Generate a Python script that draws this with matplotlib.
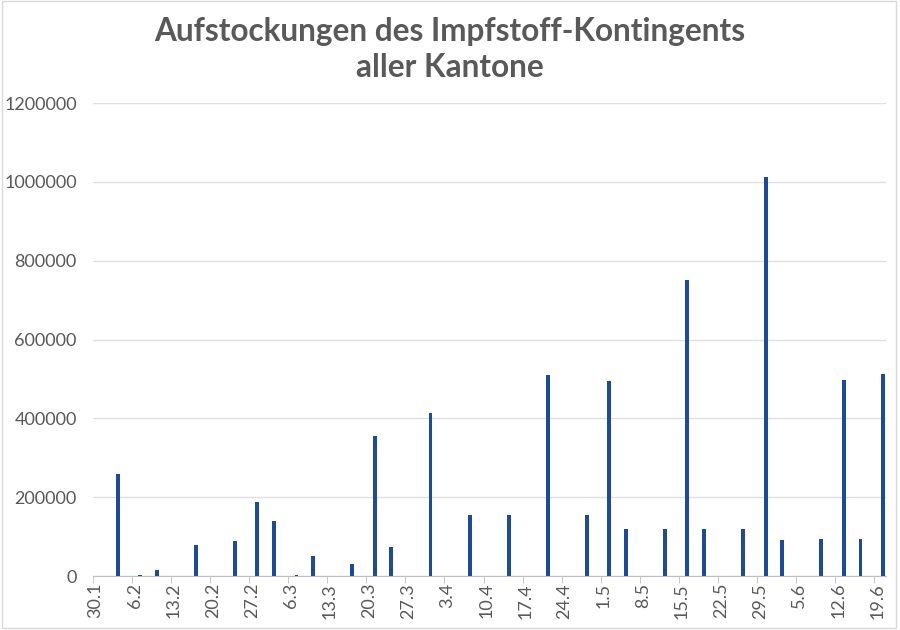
import matplotlib
matplotlib.use("Agg")
import matplotlib.pyplot as plt
from matplotlib.patches import Rectangle
import pandas as pd

plt.rcParams["font.family"] = ["Lato", "DejaVu Sans"]

# Aufstockungen pro Tag (2021)
datum = ["2021-02-03", "2021-02-07", "2021-02-10", "2021-02-17", "2021-02-24",
         "2021-02-28", "2021-03-03", "2021-03-07", "2021-03-10", "2021-03-17",
         "2021-03-21", "2021-03-24", "2021-03-31", "2021-04-07", "2021-04-14",
         "2021-04-21", "2021-04-28", "2021-05-02", "2021-05-05", "2021-05-12",
         "2021-05-16", "2021-05-19", "2021-05-26", "2021-05-30", "2021-06-02",
         "2021-06-09", "2021-06-13", "2021-06-16", "2021-06-20"]
dosen = [259000, 3000, 15000, 78000, 90000,
         188000, 140000, 3000, 52000, 30000,
         354000, 74000, 413000, 156000, 156000,
         510000, 156000, 495000, 118000, 118000,
         752000, 118000, 118000, 1013000, 92000,
         94000, 498000, 94000, 512000]

tick_labels = ["30.1", "6.2", "13.2", "20.2", "27.2", "6.3", "13.3", "20.3", "27.3",
               "3.4", "10.4", "17.4", "24.4", "1.5", "8.5", "15.5", "22.5", "29.5",
               "5.6", "12.6", "19.6"]
start = pd.Timestamp("2021-01-30")
ende = pd.Timestamp("2021-06-21")

grau = "#595959"
blau = "#1c4b9e"

df = pd.DataFrame({"datum": pd.to_datetime(datum), "dosen": dosen})
tick_dates = pd.date_range(start, periods=len(tick_labels), freq="7D")
halb = pd.Timedelta(hours=12)

fig = plt.figure(figsize=(9, 6.3), dpi=100)
ax = fig.add_axes([0.103, 0.0857, 0.881, 0.7508])

ax.bar(df["datum"] + halb, df["dosen"], width=0.7, color=blau, zorder=3)

ax.set_xlim(start, ende)
ax.set_ylim(0, 1200000)
ax.set_yticks(range(0, 1200001, 200000))
ax.yaxis.set_major_formatter(matplotlib.ticker.FuncFormatter(lambda v, p: f"{int(v)}"))
ax.grid(axis="y", color="#e0e0e0", linewidth=1, zorder=0)

ax.set_xticks(tick_dates + halb)
ax.set_xticklabels(tick_labels, rotation=90)
ax.set_xticks(tick_dates, minor=True)
ax.tick_params(axis="x", which="major", length=0, pad=5, labelsize=13, colors=grau)
ax.tick_params(axis="x", which="minor", length=5, color="#bfbfbf")
ax.tick_params(axis="y", length=0, pad=11.5, labelsize=13, colors=grau)

for s in ["top", "right", "left"]:
    ax.spines[s].set_visible(False)
ax.spines["bottom"].set_color("#bfbfbf")

fig.text(0.5, 0.922, "Aufstockungen des Impfstoff-Kontingents\naller Kantone",
         ha="center", va="center", fontsize=22.7, fontweight="bold", color=grau,
         linespacing=1.3)

fig.patches.append(Rectangle((0.002, 0.003), 0.994, 0.995, transform=fig.transFigure,
                             fill=False, edgecolor="#d9d9d9", linewidth=1))

fig.savefig("out.png", dpi=100)
